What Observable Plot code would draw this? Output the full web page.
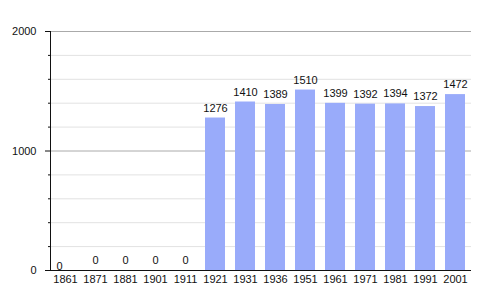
<!DOCTYPE html>
<html>
<head>
<meta charset="utf-8">
<script src="https://cdn.jsdelivr.net/npm/d3@7"></script>
<script src="https://cdn.jsdelivr.net/npm/@observablehq/plot@0.6"></script>
<style>
  html, body { margin: 0; padding: 0; background: #fff; }
  #chart svg { display: block; }
</style>
</head>
<body>
<div id="chart"></div>
<script>
const years = ["1861","1871","1881","1901","1911","1921","1931","1936","1951","1961","1971","1981","1991","2001"];
const population = [0, 0, 0, 0, 0, 1276, 1410, 1389, 1510, 1399, 1392, 1394, 1372, 1472];
const yMajorTicks = [0, 1000, 2000];
const yMinorTicks = [200, 400, 600, 800, 1200, 1400, 1600, 1800];

const data = years.map((y, i) => ({year: y, value: population[i]}));
const first = data.slice(0, 1);
const rest = data.slice(1);

const font = "Liberation Sans, Arial, sans-serif";

const chart = Plot.plot({
  width: 500,
  height: 300,
  marginTop: 31,
  marginBottom: 30,
  marginLeft: 50,
  marginRight: 29,
  style: {fontFamily: font, fontSize: "11px", color: "#111", background: "#fff"},
  x: {type: "band", domain: years, range: [38.6, 481], padding: 0.32, label: null},
  y: {domain: [0, 2000], label: null},
  marks: [
    Plot.gridY(yMinorTicks, {stroke: "#e2e2e2", strokeOpacity: 1}),
    Plot.gridY([1000, 2000], {stroke: "#aaaaaa", strokeOpacity: 1}),
    Plot.barY(data, {x: "year", y: "value", fill: "#99abfa"}),
    Plot.text(rest, {x: "year", y: "value", text: d => String(d.value), dy: -10, fill: "#111", fontSize: 11}),
    Plot.text(first, {x: "year", y: "value", text: d => String(d.value), dx: -6, dy: -4, fill: "#111", fontSize: 11}),
    Plot.axisY({ticks: yMajorTicks, tickFormat: d => String(d), tickSize: 5, tickPadding: 9, label: null, stroke: "#111"}),
    Plot.axisY({ticks: yMinorTicks, tickSize: 2, text: null, label: null, stroke: "#111"}),
    Plot.axisX({tickSize: 0, tickPadding: 5, label: null}),
    Plot.frame({anchor: "left", stroke: "#111"}),
    Plot.ruleY([0], {stroke: "#111"})
  ]
});
document.getElementById("chart").appendChild(chart);
</script>
</body>
</html>
